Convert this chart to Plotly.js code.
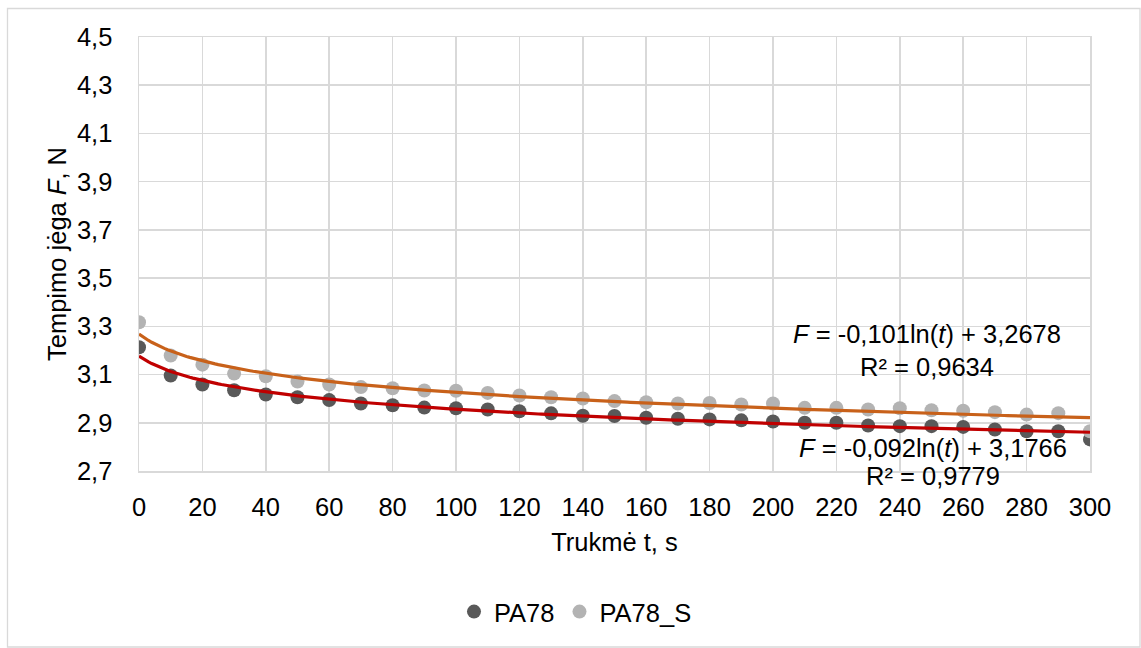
<!DOCTYPE html>
<html>
<head>
<meta charset="utf-8">
<script src="https://cdn.plot.ly/plotly-3.0.1.min.js"></script>
<style>
html,body{margin:0;padding:0;background:#fff;}
#chart{width:1141px;height:648px;}
</style>
</head>
<body>
<div id="chart"></div>
<script>
// Data
const timeS = [0,10,20,30,40,50,60,70,80,90,100,110,120,130,140,150,160,170,180,190,200,210,220,230,240,250,260,270,280,290,300];
const pa78 = [3.213,3.096,3.059,3.035,3.017,3.006,2.994,2.980,2.973,2.963,2.960,2.955,2.948,2.939,2.929,2.928,2.921,2.917,2.914,2.910,2.905,2.900,2.900,2.889,2.886,2.886,2.883,2.872,2.865,2.865,2.831];
const pa78s = [3.317,3.179,3.141,3.104,3.093,3.071,3.059,3.048,3.043,3.034,3.033,3.024,3.013,3.006,3.001,2.990,2.985,2.980,2.982,2.976,2.980,2.962,2.962,2.955,2.960,2.952,2.950,2.944,2.934,2.940,2.865];
// Logarithmic trendline coefficients shown on the chart: F = a*ln(n) + b,
// where n is the point number (1, 2, 3 ...) as in the original category chart
const trendPA78 = {a: -0.092, b: 3.1766};
const trendPA78S = {a: -0.101, b: 3.2678};
const xTickVals = [0,20,40,60,80,100,120,140,160,180,200,220,240,260,280,300];
const yTickVals = [2.7,2.9,3.1,3.3,3.5,3.7,3.9,4.1,4.3,4.5];

// trendline sampled along the point index, mapped to the time axis
const step = timeS[1] - timeS[0];
const trendN = [];
for (let n = 1; n <= timeS.length + 1e-9; n += 0.1) trendN.push(n);
const trendX = trendN.map(n => timeS[0] + (n - 1) * step);
const fitY = c => trendN.map(n => c.a * Math.log(n) + c.b);

const FONT = 'Liberation Sans, Arial, sans-serif';
const FS = 25.5;
const GRID = '#d9d9d9';

const traces = [
  {x: timeS, y: pa78, name: 'PA78', type: 'scatter', mode: 'markers',
   marker: {color: '#595959', size: 14}},
  {x: timeS, y: pa78s, name: 'PA78_S', type: 'scatter', mode: 'markers',
   marker: {color: '#b3b3b3', size: 14}},
  {x: trendX, y: fitY(trendPA78S), type: 'scatter', mode: 'lines', showlegend: false,
   hoverinfo: 'skip', line: {color: '#c8611a', width: 3.2}},
  {x: trendX, y: fitY(trendPA78), type: 'scatter', mode: 'lines', showlegend: false,
   hoverinfo: 'skip', line: {color: '#c00000', width: 3.2}}
];

const L = 139, R = 1090, T = 37, B = 471;
const pw = R - L, ph = B - T;
const px = v => (v - L) / pw;
const py = v => (B - v) / ph;

const annFont = {family: FONT, size: FS, color: '#000'};
const ann = (x, yPix, text) => ({x: x, y: py(yPix), xref: 'x', yref: 'paper', showarrow: false,
  xanchor: 'center', yanchor: 'middle', align: 'center', text: text, font: annFont});

const layout = {
  width: 1141, height: 648,
  paper_bgcolor: '#fff', plot_bgcolor: '#fff',
  separators: ',.',
  margin: {l: L, r: 1141 - R, t: T, b: 648 - B, pad: 0},
  font: {family: FONT, size: FS, color: '#000'},
  showlegend: true,
  legend: {orientation: 'h', x: px(454), xanchor: 'left', y: py(612), yanchor: 'middle',
           font: {family: FONT, size: FS, color: '#000'}, bgcolor: 'rgba(0,0,0,0)'},
  xaxis: {range: [0, 300], tickvals: xTickVals, ticktext: xTickVals.map(String),
          showgrid: true, gridcolor: GRID, gridwidth: 1.5, zeroline: false,
          showline: true, linecolor: GRID, linewidth: 1.5, mirror: true,
          ticks: '', ticklabelstandoff: 13,
          tickfont: {family: FONT, size: FS, color: '#000'},
          title: {text: 'Trukmė t, s', font: {family: FONT, size: FS, color: '#000'}, standoff: 13}},
  yaxis: {range: [2.7, 4.5], tickvals: yTickVals, ticktext: yTickVals.map(v => v.toFixed(1).replace('.', ',')),
          showgrid: true, gridcolor: GRID, gridwidth: 1.5, zeroline: false,
          showline: true, linecolor: GRID, linewidth: 1.5, mirror: true,
          ticks: '', ticklabelstandoff: 20,
          tickfont: {family: FONT, size: FS, color: '#000'},
          title: {text: 'Tempimo jėga <i>F</i>, N', font: {family: FONT, size: FS, color: '#000'}, standoff: 3}},
  annotations: [
    ann(248.6, 334, '<i>F</i> = -0,101ln(<i>t</i>) + 3,2678'),
    ann(248.6, 367, 'R² = 0,9634'),
    ann(250.5, 448, '<i>F</i> = -0,092ln(<i>t</i>) + 3,1766'),
    ann(250.5, 476, 'R² = 0,9779')
  ],
  shapes: [
    {type: 'rect', xref: 'paper', yref: 'paper', x0: px(7.5), x1: px(1140), y0: py(647), y1: py(8.5),
     line: {color: GRID, width: 1.3}, fillcolor: 'rgba(0,0,0,0)', layer: 'below'}
  ]
};

Plotly.newPlot('chart', traces, layout, {displayModeBar: false, staticPlot: true});
</script>
</body>
</html>
